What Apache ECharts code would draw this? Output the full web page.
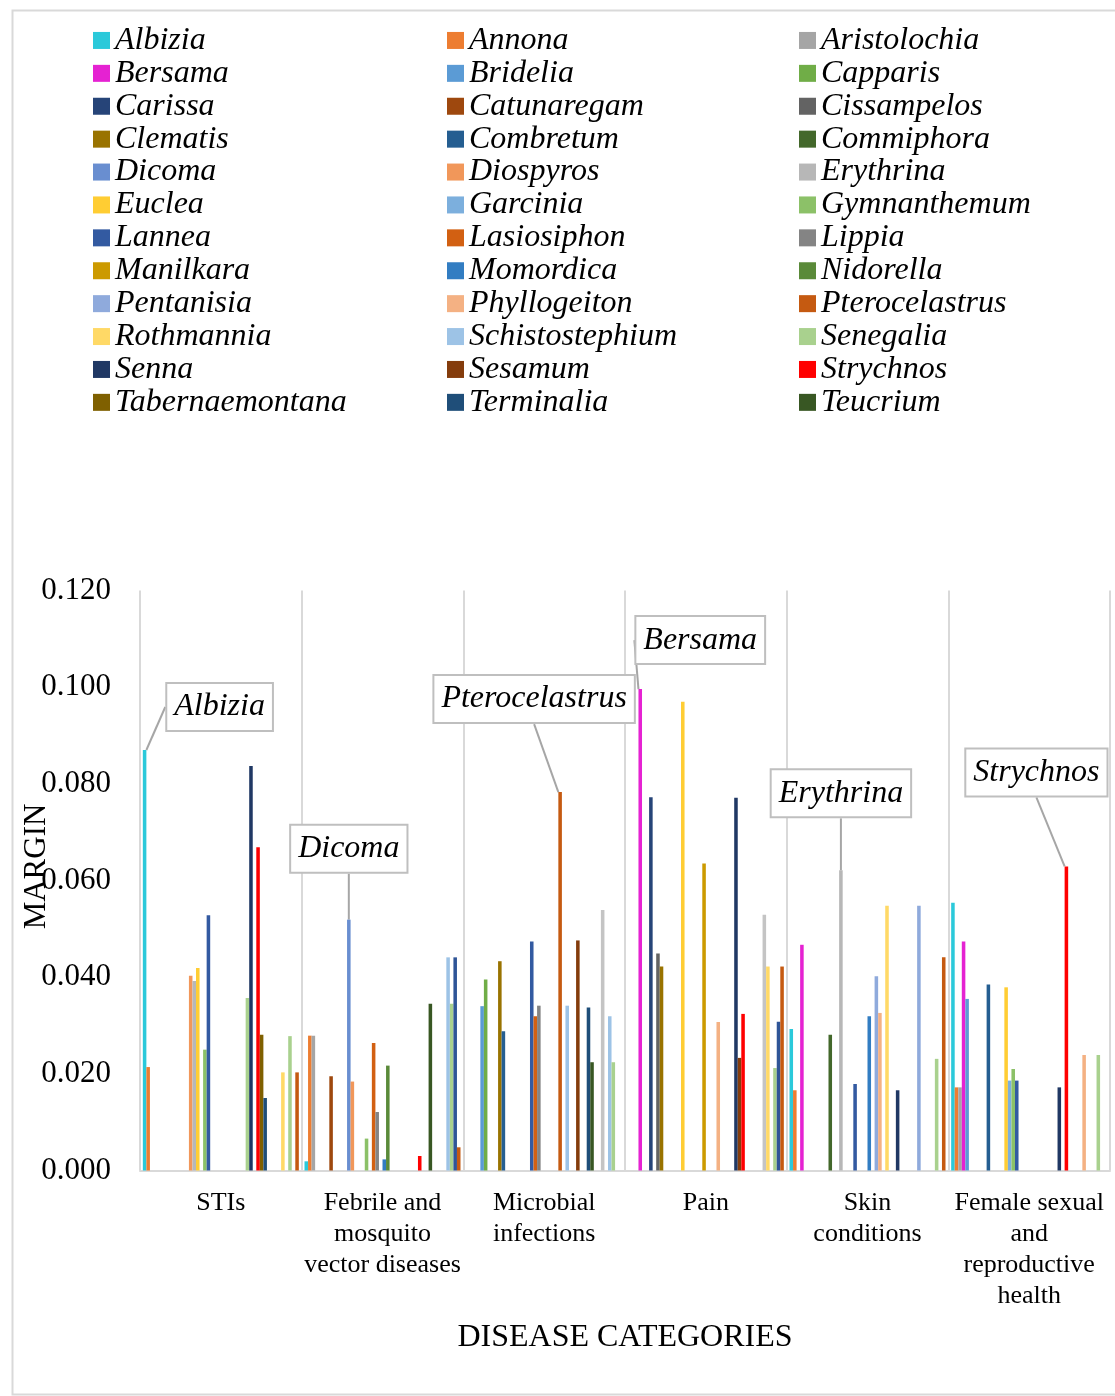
<!DOCTYPE html>
<html>
<head>
<meta charset="utf-8">
<title>Margin by disease category</title>
<script src="https://cdn.jsdelivr.net/npm/echarts@6/dist/echarts.min.js"></script>
<style>
  html, body { margin: 0; padding: 0; background: #ffffff; }
  #chart { width: 1115px; height: 1396px; }
</style>
</head>
<body>
<div id="chart"></div>
<script>
// Disease categories (x axis)
const categories = [
  'STIs',
  'Febrile and\nmosquito\nvector diseases',
  'Microbial\ninfections',
  'Pain',
  'Skin\nconditions',
  'Female sexual\nand\nreproductive\nhealth'
];

// Genera shown in the legend, in series order
const genera = [
  'Albizia', 'Annona', 'Aristolochia', 'Bersama', 'Bridelia', 'Capparis',
  'Carissa', 'Catunaregam', 'Cissampelos', 'Clematis', 'Combretum', 'Commiphora',
  'Dicoma', 'Diospyros', 'Erythrina', 'Euclea', 'Garcinia', 'Gymnanthemum',
  'Lannea', 'Lasiosiphon', 'Lippia', 'Manilkara', 'Momordica', 'Nidorella',
  'Pentanisia', 'Phyllogeiton', 'Pterocelastrus', 'Rothmannia', 'Schistostephium', 'Senegalia',
  'Senna', 'Sesamum', 'Strychnos', 'Tabernaemontana', 'Terminalia', 'Teucrium'
];
// Further series plotted after the legend entries
const extraSeries = ['Series 37', 'Series 38', 'Series 39', 'Series 40', 'Series 41', 'Series 42', 'Series 43', 'Series 44'];

// Margin values per category: [series, value]
const stis = [
  ['Albizia', 0.0870], ['Annona', 0.0214], ['Diospyros', 0.0403], ['Erythrina', 0.0392],
  ['Euclea', 0.0419], ['Gymnanthemum', 0.0250], ['Lannea', 0.0528], ['Senegalia', 0.0357],
  ['Senna', 0.0837], ['Strychnos', 0.0669], ['Tabernaemontana', 0.0281], ['Terminalia', 0.0150],
  ['Series 40', 0.0203], ['Series 42', 0.0278], ['Series 44', 0.0203]
];
const febrile = [
  ['Albizia', 0.0019], ['Annona', 0.0279], ['Aristolochia', 0.0279], ['Catunaregam', 0.0195],
  ['Dicoma', 0.0519], ['Diospyros', 0.0184], ['Gymnanthemum', 0.0066], ['Lasiosiphon', 0.0264],
  ['Lippia', 0.0121], ['Momordica', 0.0023], ['Nidorella', 0.0217], ['Strychnos', 0.0030],
  ['Teucrium', 0.0345], ['Series 41', 0.0441], ['Series 42', 0.0345], ['Series 43', 0.0441],
  ['Series 44', 0.0048]
];
const microbial = [
  ['Bridelia', 0.0340], ['Capparis', 0.0395], ['Clematis', 0.0433], ['Combretum', 0.0288],
  ['Lannea', 0.0474], ['Lasiosiphon', 0.0319], ['Lippia', 0.0341], ['Pterocelastrus', 0.0783],
  ['Schistostephium', 0.0341], ['Sesamum', 0.0476], ['Terminalia', 0.0337], ['Teucrium', 0.0224],
  ['Series 39', 0.0539], ['Series 41', 0.0319], ['Series 42', 0.0224]
];
const pain = [
  ['Bersama', 0.0996], ['Carissa', 0.0772], ['Cissampelos', 0.0449], ['Clematis', 0.0422],
  ['Euclea', 0.0970], ['Manilkara', 0.0635], ['Phyllogeiton', 0.0307], ['Senna', 0.0771],
  ['Sesamum', 0.0233], ['Strychnos', 0.0324], ['Series 39', 0.0529], ['Series 40', 0.0422],
  ['Series 42', 0.0212], ['Series 43', 0.0308], ['Series 44', 0.0422]
];
const skin = [
  ['Albizia', 0.0293], ['Annona', 0.0166], ['Bersama', 0.0467], ['Commiphora', 0.0281],
  ['Erythrina', 0.0621], ['Lannea', 0.0179], ['Momordica', 0.0319], ['Pentanisia', 0.0402],
  ['Phyllogeiton', 0.0326], ['Rothmannia', 0.0548], ['Senna', 0.0166], ['Series 37', 0.0548],
  ['Series 42', 0.0231], ['Series 44', 0.0441]
];
const female = [
  ['Albizia', 0.0554], ['Annona', 0.0172], ['Aristolochia', 0.0172], ['Bersama', 0.0474],
  ['Bridelia', 0.0355], ['Combretum', 0.0385], ['Euclea', 0.0379], ['Garcinia', 0.0186],
  ['Gymnanthemum', 0.0210], ['Lannea', 0.0186], ['Senna', 0.0172], ['Strychnos', 0.0629],
  ['Series 38', 0.0239], ['Series 42', 0.0239]
];
const valuesByCategory = [stis, febrile, microbial, pain, skin, female];

// Y axis ticks
const yTicks = [0, 0.02, 0.04, 0.06, 0.08, 0.10, 0.12];

// Named bars: [series, category index]
const callouts = [
  ['Albizia', 0], ['Dicoma', 1], ['Pterocelastrus', 2],
  ['Bersama', 3], ['Erythrina', 4], ['Strychnos', 5]
];

// ---- styling ----
const palette = [
  '#2BC9DA', '#ED7D31', '#A5A5A5', '#E522D2', '#5B9BD5', '#70AD47',
  '#264478', '#9E480E', '#636363', '#997300', '#255E91', '#43682B',
  '#698ED0', '#F1975A', '#B7B7B7', '#FFCD33', '#7CAFDD', '#8CC168',
  '#335AA1', '#D26012', '#848484', '#CC9A00', '#327DC2', '#5A8A39',
  '#8FAADC', '#F4B183', '#C55A11', '#FFD966', '#9DC3E6', '#A9D18E',
  '#203864', '#843C0C', '#FF0000', '#7F6000', '#1F4E79', '#385723',
  '#8FAADC', '#F4B183', '#C4C4C4', '#FFD966', '#9DC3E6', '#A9D18E',
  '#2F5597', '#C55A11'
];
// Offset of each callout box from its bar top
const calloutOffset = {
  Albizia: [75, -20], Dicoma: [0, -48], Pterocelastrus: [-26, -70],
  Bersama: [60, -26], Erythrina: [0, -54], Strychnos: [-30, -71]
};
const serif = "'Liberation Serif', 'Times New Roman', serif";

const allSeries = genera.concat(extraSeries);

const series = allSeries.map((name, i) => {
  const data = valuesByCategory.map((list, ci) => {
    const hit = list.find(d => d[0] === name);
    const value = hit ? hit[1] : null;
    const named = callouts.some(c => c[0] === name && c[1] === ci);
    if (value != null && named) {
      return { value: value, label: { show: true }, labelLine: { show: true } };
    }
    return value;
  });
  return {
    name: name,
    type: 'bar',
    data: data,
    barGap: '0%',
    barCategoryGap: '3.5%',
    itemStyle: { color: palette[i] },
    label: {
      show: false,
      position: 'top',
      distance: 0,
      formatter: '{a}',
      fontFamily: serif,
      fontStyle: 'italic',
      fontSize: 32,
      lineHeight: 32,
      color: '#000000',
      backgroundColor: '#ffffff',
      borderColor: '#BFBFBF',
      borderWidth: 2,
      padding: [7, 7]
    },
    labelLine: { show: false, lineStyle: { color: '#A6A6A6', width: 2 } },
    labelLayout: function () {
      const off = calloutOffset[name];
      return off ? { dx: off[0], dy: off[1] } : {};
    }
  };
});

const legendCols = [93, 447, 799];
const legends = legendCols.map((left, col) => ({
  orient: 'vertical',
  left: left,
  top: 24,
  padding: 0,
  itemGap: 0,
  itemWidth: 17,
  itemHeight: 17,
  icon: 'rect',
  selectedMode: false,
  data: genera.filter((_, i) => i % 3 === col),
  textStyle: {
    fontFamily: serif,
    fontStyle: 'italic',
    fontSize: 32,
    lineHeight: 32.9,
    color: '#000000'
  }
}));

const chart = echarts.init(document.getElementById('chart'), null, { renderer: 'canvas' });
chart.setOption({
  animation: false,
  backgroundColor: '#ffffff',
  color: palette,
  legend: legends,
  grid: { left: 140, right: 5, top: 590.5, bottom: 225.5, outerBoundsMode: 'none', containLabel: false },
  xAxis: {
    type: 'category',
    data: categories,
    name: 'DISEASE CATEGORIES',
    nameLocation: 'middle',
    nameGap: 151,
    nameMoveOverlap: false,
    nameTextStyle: { fontFamily: serif, fontSize: 32, color: '#000000' },
    axisLine: { show: true, lineStyle: { color: '#D9D9D9', width: 2 } },
    axisTick: { show: false },
    axisLabel: {
      interval: 0, margin: 17, fontFamily: serif, fontSize: 26, lineHeight: 31,
      color: '#000000', align: 'center'
    },
    splitLine: { show: true, interval: 0, lineStyle: { color: '#D9D9D9', width: 2 } }
  },
  yAxis: {
    type: 'value',
    min: yTicks[0],
    max: yTicks[yTicks.length - 1],
    interval: yTicks[1] - yTicks[0],
    name: 'MARGIN',
    nameLocation: 'middle',
    nameGap: 88,
    nameMoveOverlap: false,
    nameTextStyle: { fontFamily: serif, fontSize: 31, color: '#000000', padding: [0, 0, 0, 28] },
    axisLine: { show: false },
    axisTick: { show: false },
    splitLine: { show: false },
    axisLabel: {
      margin: 29, fontFamily: serif, fontSize: 31, color: '#000000',
      formatter: v => v.toFixed(3)
    }
  },
  graphic: [{
    type: 'rect',
    left: 10, top: 8,
    shape: { width: 1104, height: 1384 },
    style: { fill: 'none', stroke: '#D9D9D9', lineWidth: 2 },
    silent: true
  }],
  series: series
});
</script>
</body>
</html>
